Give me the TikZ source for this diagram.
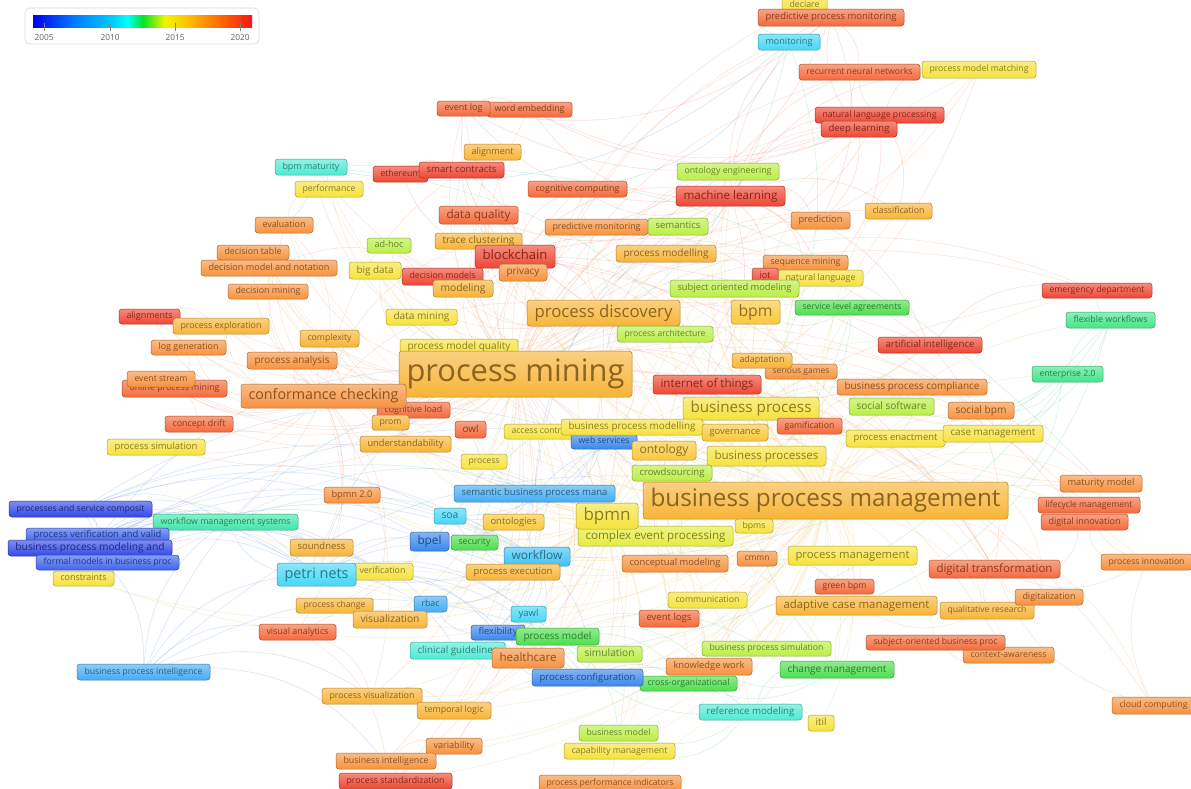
\documentclass[tikz,border=0pt]{standalone}
\usepackage{fontspec}
\setmainfont{Open Sans}

% keyword colours (publication year scale)
\definecolor{cRed}{RGB}{238,70,50}
\definecolor{cRedOr}{RGB}{244,106,58}
\definecolor{cOrange}{RGB}{247,146,62}
\definecolor{cAmber}{RGB}{248,180,55}
\definecolor{cAmberY}{RGB}{250,200,58}
\definecolor{cYellow}{RGB}{246,226,60}
\definecolor{cYellowG}{RGB}{228,236,62}
\definecolor{cYelGrn}{RGB}{186,238,70}
\definecolor{cGreen}{RGB}{78,222,78}
\definecolor{cTealGrn}{RGB}{70,228,140}
\definecolor{cTeal}{RGB}{65,230,170}
\definecolor{cAqua}{RGB}{80,234,212}
\definecolor{cCyan}{RGB}{70,215,245}
\definecolor{cCyanB}{RGB}{62,195,245}
\definecolor{cLBlue}{RGB}{70,172,242}
\definecolor{cBlue}{RGB}{58,135,236}
\definecolor{cMBlue}{RGB}{62,100,238}
\definecolor{cDBlue}{RGB}{52,72,230}
% link colours
\definecolor{eOr}{RGB}{242,168,128}
\definecolor{eYe}{RGB}{238,208,115}
\definecolor{eRe}{RGB}{240,140,120}
\definecolor{eBl}{RGB}{120,168,232}
\definecolor{eGr}{RGB}{110,212,168}

\pgfdeclarehorizontalshading{yearbar}{100bp}{rgb(0bp)=(0,0,0.92); rgb(25bp)=(0,0,0.92); rgb(34.1bp)=(0,0.47,1); rgb(42.6bp)=(0,0.78,1); rgb(46.5bp)=(0,1,1); rgb(50.1bp)=(0,0.9,0.15); rgb(55.1bp)=(0.95,0.96,0); rgb(60.4bp)=(1,0.75,0); rgb(67.2bp)=(1,0.43,0); rgb(75bp)=(0.98,0.08,0.08); rgb(100bp)=(0.98,0.08,0.08)}

\pgfdeclarelayer{bg}
\pgfsetlayers{bg,main}

\tikzset{
  kwstyle/.style={rectangle, rounded corners=3pt, draw=#1!72!black, line width=0.5pt,
    top color=#1!62!white, bottom color=#1, text=#1!56!black, inner sep=0pt},
  lnk/.style={draw=#1, draw opacity=0.3, line width=0.55pt, bend left=24},
  yearlbl/.style={font=\fontsize{8.3}{9}\selectfont, text=black!62, inner sep=0pt}
}

% keyword label: name, x, y, width, height, colour, text (font scaled to box width)
\newcommand\kwbox[7]{%
  \pgfmathsetmacro\kwfs{10*(#4-15)/width("#7")}%
  \node[kwstyle=#6, minimum width=#4pt, minimum height=#5pt] (#1) at (#2,#3)
    {\fontsize{\kwfs}{\kwfs}\selectfont\vphantom{Ag}#7};%
}

\begin{document}
\begin{tikzpicture}[x=1pt, y=-1pt]
\useasboundingbox (0,0) rectangle (1191,788);

% ---------- keywords ----------
\kwbox{deciare}{804.5}{5}{45}{16}{cYellow}{deciare}
\kwbox{ppm}{831}{17.5}{146}{17}{cRedOr}{predictive process monitoring}
\kwbox{monitoring}{789}{42}{62}{16}{cCyan}{monitoring}
\kwbox{rnn}{859.5}{72}{121}{16}{cRedOr}{recurrent neural networks}
\kwbox{pmm}{979}{69.5}{114}{17}{cYellow}{process model matching}
\kwbox{nlp}{879.5}{115}{129}{16}{cRed}{natural language processing}
\kwbox{dl}{859}{129}{76}{16}{cRed}{deep learning}
\kwbox{wemb}{529.5}{109.5}{85}{15}{cRedOr}{word embedding}
\kwbox{evlog}{463.5}{108.5}{53}{15}{cRedOr}{event log}
\kwbox{alignment}{492.5}{152}{57}{16}{cAmber}{alignment}
\kwbox{bpmmat}{311}{167}{72}{16}{cAqua}{bpm maturity}
\kwbox{eth}{400.5}{174}{55}{16}{cRed}{ethereum}
\kwbox{smart}{461.5}{170}{85}{16}{cRed}{smart contracts}
\kwbox{perf}{329}{189}{68}{16}{cYellow}{performance}
\kwbox{cogc}{577.5}{189}{99}{16}{cRedOr}{cognitive computing}
\kwbox{onteng}{728}{171.5}{102}{17}{cYelGrn}{ontology engineering}
\kwbox{ml}{730.5}{196}{109}{20}{cRed}{machine learning}
\kwbox{dq}{478.5}{215}{79}{18}{cRedOr}{data quality}
\kwbox{eval}{284}{225}{58}{16}{cOrange}{evaluation}
\kwbox{predmon}{596.5}{227}{103}{16}{cOrange}{predictive monitoring}
\kwbox{sem}{678}{226.5}{60}{17}{cYelGrn}{semantics}
\kwbox{pred}{820.5}{220.5}{59}{17}{cOrange}{prediction}
\kwbox{class}{898.5}{211}{67}{16}{cAmber}{classification}
\kwbox{trace}{478.5}{241}{87}{16}{cAmber}{trace clustering}
\kwbox{adhoc}{389}{245.5}{44}{15}{cYelGrn}{ad-hoc}
\kwbox{dtable}{253}{252.5}{72}{15}{cOrange}{decision table}
\kwbox{bc}{515}{256.5}{80}{23}{cRed}{blockchain}
\kwbox{pmod}{666}{253.5}{100}{17}{cAmber}{process modelling}
\kwbox{dmn}{269}{268}{136}{16}{cOrange}{decision model and notation}
\kwbox{bigd}{375}{270.5}{52}{17}{cYellow}{big data}
\kwbox{dmod}{442.5}{276.5}{81}{17}{cRed}{decision models}
\kwbox{priv}{523}{272.5}{48}{17}{cOrange}{privacy}
\kwbox{seqm}{805.5}{262.5}{85}{15}{cOrange}{sequence mining}
\kwbox{natl}{820.5}{278}{85}{16}{cYellow}{natural language}
\kwbox{iot}{765}{276.5}{26}{17}{cRed}{iot}
\kwbox{modeling}{463}{288.5}{60}{17}{cAmber}{modeling}
\kwbox{som}{734.5}{288.5}{129}{17}{cYelGrn}{subject oriented modeling}
\kwbox{dmin}{268}{291.5}{80}{15}{cOrange}{decision mining}
\kwbox{emerg}{1097}{290.5}{110}{15}{cRed}{emergency department}
\kwbox{pdisc}{603.5}{313}{153}{26}{cAmber}{process discovery}
\kwbox{bpm}{755.5}{312}{49}{24}{cAmberY}{bpm}
\kwbox{sla}{852}{307.5}{114}{15}{cGreen}{service level agreements}
\kwbox{alignments}{149.5}{316.5}{61}{15}{cRed}{alignments}
\kwbox{pexpl}{221}{326}{96}{16}{cAmber}{process exploration}
\kwbox{dmining}{421.5}{317}{71}{16}{cYellow}{data mining}
\kwbox{flexw}{1110.5}{320}{89}{16}{cTealGrn}{flexible workflows}
\kwbox{complexity}{329.5}{338.5}{59}{17}{cAmber}{complexity}
\kwbox{parch}{665}{334}{96}{16}{cYelGrn}{process architecture}
\kwbox{loggen}{188.5}{347.5}{75}{15}{cOrange}{log generation}
\kwbox{pmq}{459}{347}{118}{16}{cYellow}{process model quality}
\kwbox{ai}{930}{345}{104}{16}{cRed}{artificial intelligence}
\kwbox{panal}{292}{360.5}{90}{17}{cOrange}{process analysis}
\kwbox{pm}{515.5}{374}{233}{46}{cAmber}{process mining}
\kwbox{sgames}{801}{371.5}{72}{15}{cOrange}{serious games}
\kwbox{adapt}{762}{360.5}{60}{15}{cAmber}{adaptation}
\kwbox{iothings}{707}{384.5}{108}{19}{cRed}{internet of things}
\kwbox{bpc}{912}{387}{150}{16}{cOrange}{business process compliance}
\kwbox{ent}{1067.5}{374}{71}{16}{cTealGrn}{enterprise 2.0}
\kwbox{opm}{174.5}{388.5}{105}{17}{cRedOr}{online process mining}
\kwbox{evstream}{161}{379}{68}{16}{cOrange}{event stream}
\kwbox{cogl}{413.5}{410}{73}{16}{cRedOr}{cognitive load}
\kwbox{prom}{390.5}{422.5}{37}{15}{cAmber}{prom}
\kwbox{cc}{323.5}{396}{165}{24}{cOrange}{conformance checking}
\kwbox{bp}{751}{408.5}{136}{23}{cYellow}{business process}
\kwbox{socsw}{891.5}{406.5}{85}{17}{cYelGrn}{social software}
\kwbox{sbpm}{981}{410.5}{66}{17}{cOrange}{social bpm}
\kwbox{cdrift}{199}{424}{68}{16}{cRedOr}{concept drift}
\kwbox{owl}{470.5}{429.5}{31}{17}{cRedOr}{owl}
\kwbox{access}{540}{431.5}{72}{15}{cYellow}{access control}
\kwbox{wserv}{604}{441.5}{66}{15}{cBlue}{web services}
\kwbox{bpmodelling}{632}{427}{142}{16}{cYellow}{business process modelling}
\kwbox{gov}{735}{432.5}{66}{17}{cAmberY}{governance}
\kwbox{gamif}{809.5}{426}{65}{16}{cRedOr}{gamification}
\kwbox{penact}{895.5}{438.5}{99}{17}{cYellow}{process enactment}
\kwbox{casem}{993}{433.5}{100}{17}{cYellow}{case management}
\kwbox{underst}{405.5}{444}{91}{16}{cAmber}{understandability}
\kwbox{psim}{156}{447}{98}{16}{cYellow}{process simulation}
\kwbox{ontology}{664}{450.5}{64}{19}{cAmberY}{ontology}
\kwbox{bps}{766.5}{456}{119}{20}{cYellow}{business processes}
\kwbox{process}{484}{461.5}{46}{15}{cYellow}{process}
\kwbox{crowd}{672}{473}{80}{16}{cYelGrn}{crowdsourcing}
\kwbox{matm}{1101}{483.5}{82}{17}{cOrange}{maturity model}
\kwbox{bpmn2}{352}{495}{56}{16}{cOrange}{bpmn 2.0}
\kwbox{sbpmm}{534.5}{493.5}{161}{17}{cLBlue}{semantic business process mana}
\kwbox{bpmgt}{825.5}{500.5}{365}{37}{cAmber}{business process management}
\kwbox{lcm}{1089}{505}{102}{16}{cRedOr}{lifecycle management}
\kwbox{psc}{80.5}{509}{143}{16}{cDBlue}{processes and service composit}
\kwbox{wfms}{225.5}{522}{145}{16}{cTeal}{workflow management systems}
\kwbox{soa}{450}{516}{32}{16}{cCyan}{soa}
\kwbox{ontologies}{513.5}{522}{61}{16}{cAmberY}{ontologies}
\kwbox{bpms}{754}{526}{38}{14}{cYellow}{bpms}
\kwbox{cep}{655.5}{536}{155}{20}{cYellowG}{complex event processing}
\kwbox{bpmn}{607}{516}{62}{26}{cYellow}{bpmn}
\kwbox{dinnov}{1084.5}{522}{87}{16}{cRedOr}{digital innovation}
\kwbox{pvv}{97.5}{535}{143}{14}{cMBlue}{process verification and valid}
\kwbox{bpma}{90}{548}{164}{16}{cDBlue}{business process modeling and}
\kwbox{fmbp}{107.5}{562.5}{143}{15}{cMBlue}{formal models in business proc}
\kwbox{soundness}{321.5}{547.5}{63}{17}{cAmber}{soundness}
\kwbox{bpel}{429.5}{541.5}{39}{19}{cBlue}{bpel}
\kwbox{security}{474.5}{542.5}{47}{15}{cGreen}{security}
\kwbox{workflow}{537}{556.5}{66}{19}{cCyanB}{workflow}
\kwbox{pmgmt}{852.5}{555.5}{129}{19}{cYellow}{process management}
\kwbox{cmmn}{757}{558.5}{40}{15}{cOrange}{cmmn}
\kwbox{concm}{675}{563.5}{106}{17}{cOrange}{conceptual modeling}
\kwbox{dtrans}{994.5}{569}{131}{18}{cRedOr}{digital transformation}
\kwbox{pinnov}{1146.5}{562}{91}{16}{cOrange}{process innovation}
\kwbox{constraints}{83.5}{578.5}{61}{15}{cYellow}{constraints}
\kwbox{verif}{382.5}{571.5}{61}{17}{cYellow}{verification}
\kwbox{petri}{316.5}{574.5}{79}{23}{cCyan}{petri nets}
\kwbox{pexec}{513}{572}{94}{16}{cAmber}{process execution}
\kwbox{greenbpm}{844.5}{586.5}{59}{15}{cRedOr}{green bpm}
\kwbox{qualr}{987}{610.5}{94}{17}{cAmber}{qualitative research}
\kwbox{digitalization}{1049}{597}{68}{16}{cOrange}{digitalization}
\kwbox{acm}{856.5}{605.5}{161}{19}{cAmber}{adaptive case management}
\kwbox{comm}{707.5}{600}{79}{16}{cYellow}{communication}
\kwbox{pchange}{334.5}{605.5}{77}{15}{cAmber}{process change}
\kwbox{rbac}{430.5}{604}{33}{16}{cLBlue}{rbac}
\kwbox{visu}{390}{619.5}{74}{17}{cAmber}{visualization}
\kwbox{yawl}{528.5}{614}{35}{16}{cCyan}{yawl}
\kwbox{evlogs}{669}{618.5}{60}{17}{cRedOr}{event logs}
\kwbox{va}{297.5}{632}{77}{16}{cRedOr}{visual analytics}
\kwbox{flexibility}{498}{632.5}{54}{15}{cBlue}{flexibility}
\kwbox{pmodel}{557.5}{636.5}{83}{17}{cGreen}{process model}
\kwbox{ctxa}{1008.5}{655}{91}{16}{cOrange}{context-awareness}
\kwbox{sobp}{935.5}{642.5}{139}{15}{cRedOr}{subject-oriented business proc}
\kwbox{bpsim}{766.5}{648.5}{129}{15}{cYelGrn}{business process simulation}
\kwbox{clin}{457.5}{650.5}{95}{17}{cAqua}{clinical guidelines}
\kwbox{hc}{528}{658}{72}{20}{cOrange}{healthcare}
\kwbox{simul}{609.5}{654}{65}{16}{cYelGrn}{simulation}
\kwbox{kw}{709}{666.5}{86}{17}{cOrange}{knowledge work}
\kwbox{chm}{837}{669.5}{114}{17}{cGreen}{change management}
\kwbox{bpi}{143.5}{672}{133}{16}{cLBlue}{business process intelligence}
\kwbox{xorg}{688.5}{683.5}{97}{15}{cGreen}{cross-organizational}
\kwbox{pconf}{587.5}{677.5}{111}{17}{cBlue}{process configuration}
\kwbox{cloud}{1153.5}{705.5}{83}{17}{cOrange}{cloud computing}
\kwbox{pvis}{372}{696}{100}{16}{cAmber}{process visualization}
\kwbox{tlogic}{454}{710.5}{74}{17}{cAmber}{temporal logic}
\kwbox{refm}{750.5}{712}{103}{16}{cAqua}{reference modeling}
\kwbox{itil}{821}{723}{26}{16}{cYellow}{itil}
\kwbox{bmodel}{618.5}{733}{79}{16}{cYelGrn}{business model}
\kwbox{variab}{454}{746}{56}{16}{cOrange}{variability}
\kwbox{capm}{619.5}{751}{111}{16}{cYellow}{capability management}
\kwbox{bi}{386}{761}{100}{16}{cOrange}{business intelligence}
\kwbox{pstd}{395.5}{781}{113}{16}{cRed}{process standardization}
\kwbox{ppi}{610}{783}{142}{16}{cOrange}{process performance indicators}

% ---------- year legend ----------
\draw[rounded corners=5pt, draw=black!14, fill=white, line width=0.7pt] (25,8) rectangle (259,44);
\shade[shading=yearbar] (33,15) rectangle (252,27);
\foreach \yr/\xx in {2005/44, 2010/110, 2015/175, 2020/240}{
  \draw[black!50, line width=0.5pt] (\xx,23) -- (\xx,31);
  \node[yearlbl] (lg\yr) at (\xx,37.5) {\yr};
}

% ---------- co-occurrence links ----------
\begin{pgfonlayer}{bg}
\fill[white] (0,0) rectangle (1191,788);

\foreach \t in {pdisc,cc,bp,bpm,bpmn,evlog,wemb,dq,bc,ml,trace,dmin,panal,alignments,opm,evstream,cdrift,loggen,pexpl,pmq,complexity,dmining,predmon,ppm,evlogs,hc,pmodel,bpmodelling,iothings,ai,dl,rnn,priv,dmod,dmn,dtable,eval,alignment,cogc,smart,modeling,bigd,class,pred,seqm,psim,va,pvis,bi,pstd,variab,ppi,kw,ctxa,digitalization,dtrans,emerg,cloud,cogl,prom,owl,underst,sem,pmod,nlp,adapt,gamif,pexec,visu,pchange,simul,bpmgt,sbpm,matm,lcm,process,tlogic,monitoring,bpmmat,perf,adhoc,deciare}
  \draw[lnk=eOr] (pm) to (\t);

\foreach \t in {bp,bpmn,bpm,ontology,bps,sbpmm,casem,acm,pmgmt,dtrans,lcm,matm,dinnov,chm,sobp,sbpm,socsw,bpc,gov,ent,flexw,emerg,pinnov,cloud,digitalization,qualr,ctxa,greenbpm,refm,itil,bmodel,capm,ppi,kw,comm,sla,ai,iothings,gamif,penact,cep,crowd,workflow,soa,bpel,petri,wfms,concm,cmmn,bpms,simul,pconf,xorg,bpsim,onteng,som,parch,adapt,sgames,pmm,class,perf,bpmmat,eval,constraints,pvis,bi,variab,pstd,tlogic,visu,underst,bpmn2,dmn,bigd,priv,bc,smart,cogc,pred,natl,seqm,pdisc,ml,dq}
  \draw[lnk=eYe] (bpmgt) to (\t);

\foreach \t in {bpmn2,soundness,verif,petri,workflow,bpel,cep,concm,cmmn,dmn,dtable,underst,complexity,pvis,bpmodelling,bpsim,simul,pmodel,ontologies,ontology,sbpmm,som,soa,security,rbac,pexec,access,process,owl,constraints,tlogic,visu,pchange,yawl,comm,kw,chm,acm,casem,bps,bp,pdisc,bpm,gov,crowd,evlogs,hc,pconf,xorg,refm,bmodel,capm,pmm,pmod}
  \draw[lnk=eYe] (bpmn) to (\t);

\foreach \t in {bpm,bps,bpmodelling,ontology,gov,socsw,penact,casem,bpc,sbpm,gamif,adapt,sgames,iothings,crowd,comm,kw,chm,acm,pmgmt,dtrans,ai,ml,nlp,natl,iot,som,parch,pmod,sem,onteng,pdisc,cep}
  \draw[lnk=eYe] (bp) to (\t);

\foreach \t in {smart,eth,iot,iothings,priv,dq,dmod,bigd,ai,ml,cogc,dtrans,dinnov,gamif,trace,modeling,pdisc,evlog,cogl,adhoc}
  \draw[lnk=eRe] (bc) to (\t);

\foreach \t in {dl,nlp,rnn,ppm,pred,class,seqm,natl,wemb,evlog,cogc,ai,predmon,pmm,onteng,sem,pmod,iot,iothings,dq,monitoring}
  \draw[lnk=eRe] (ml) to (\t);

\foreach \a/\b in {nlp/natl,nlp/pmm,nlp/dl,nlp/pmod,nlp/wemb,nlp/rnn,nlp/class,dl/rnn,dl/ppm,dl/pred,dl/wemb,dl/evlog,ppm/rnn,ppm/predmon,ppm/pred,ppm/evlog,ai/iothings,ai/dtrans,ai/emerg,iothings/iot,iothings/dtrans,eth/smart,smart/priv,evlog/wemb}
  \draw[lnk=eRe] (\a) to (\b);

\foreach \t in {alignments,alignment,opm,evstream,cdrift,loggen,pexpl,panal,complexity,dmin,dtable,dmn,eval,pdisc,trace,underst,prom,cogl,psim,va,pvis,soundness,petri,constraints,verif,bpmn2}
  \draw[lnk=eOr] (cc) to (\t);

\foreach \t in {trace,dq,evlog,alignment,predmon,panal,bigd,dmining,modeling,priv,dmod,pmq,pmod,parch,bpm,seqm,hc,evlogs,pexpl,loggen,cdrift,emerg,pstd}
  \draw[lnk=eOr] (pdisc) to (\t);

\foreach \a/\b in {hc/emerg,hc/clin,hc/evlogs,hc/pvis,hc/pmodel,dmn/dtable,dmn/dmin,dmn/dmod,eval/perf,eval/complexity,underst/complexity,underst/pmq,underst/cogl,va/pvis,va/bi,bi/variab,bi/pstd,pvis/tlogic,variab/pconf,ctxa/sobp,digitalization/dtrans,qualr/acm,qualr/dtrans,cloud/dtrans,cloud/pinnov,pinnov/dtrans,pinnov/dinnov,pinnov/lcm,matm/lcm,matm/bpm,matm/bpmmat,dinnov/dtrans,lcm/bpm,kw/acm,kw/casem,sbpm/socsw,sbpm/casem,gamif/socsw,bpc/penact,bpc/gov,cmmn/casem,cmmn/acm,concm/ontology,concm/som,greenbpm/pmgmt,pmm/bpmodelling,pmm/pmod,alignments/pexpl,loggen/opm,evstream/cdrift}
  \draw[lnk=eOr] (\a) to (\b);

\foreach \a/\b in {psc/petri,psc/wfms,psc/workflow,psc/bpel,psc/pvv,psc/bpma,psc/fmbp,psc/soa,psc/wserv,psc/bpmn,pvv/petri,pvv/wfms,pvv/bpma,pvv/fmbp,pvv/verif,pvv/soundness,pvv/workflow,pvv/constraints,bpma/petri,bpma/fmbp,bpma/wfms,bpma/bpmn,bpma/pm,bpma/bpmgt,bpma/verif,bpma/soundness,bpma/workflow,bpma/bpi,fmbp/petri,fmbp/wfms,fmbp/verif,fmbp/soundness,fmbp/constraints,fmbp/bpel,fmbp/workflow,bpi/pm,bpi/pvis,bpi/bi,bpi/bpmgt,bpi/va,bpi/pmodel,bpi/petri,bpi/wfms,petri/workflow,petri/yawl,petri/soundness,petri/verif,petri/wfms,petri/bpel,petri/pexec,petri/flexibility,petri/rbac,petri/clin,petri/pconf,petri/pm,petri/pmodel,petri/hc,workflow/yawl,workflow/bpel,workflow/flexibility,workflow/wfms,workflow/pconf,workflow/clin,workflow/hc,workflow/sbpmm,workflow/soa,workflow/wserv,workflow/pexec,workflow/security,workflow/rbac,wserv/bpel,wserv/soa,wserv/sbpmm,wserv/sem,wserv/ontology,wserv/bpmodelling,wserv/cep,sbpmm/ontologies,sbpmm/ontology,sbpmm/soa,sbpmm/bpel,sbpmm/sem,sbpmm/onteng,sbpmm/owl,sbpmm/process,pconf/yawl,pconf/flexibility,pconf/refm,pconf/xorg,pconf/pmodel,pconf/simul,flexibility/yawl,flexibility/clin,flexibility/hc,flexibility/pmodel,flexibility/rbac,monitoring/bpmmat,monitoring/cogc}
  \draw[lnk=eBl] (\a) to (\b);

\foreach \a/\b in {ent/socsw,ent/sbpm,ent/casem,ent/bpmgt,ent/flexw,ent/bp,flexw/casem,flexw/hc,flexw/emerg,flexw/acm,flexw/workflow,refm/bmodel,refm/chm,refm/capm,refm/pmodel,refm/itil,chm/kw,chm/xorg,chm/acm,chm/bp,monitoring/pm,monitoring/ppm,monitoring/bp,bpmmat/matm,bpmmat/eval,bpmmat/perf,bpmmat/bp,clin/hc,clin/pmodel,clin/simul,security/rbac,security/bpel,security/access,sla/bpm,sla/cep,sla/bps,pmodel/simul,pmodel/xorg,pmodel/bpsim,pmodel/kw,pmodel/bmodel,wfms/workflow,wfms/bpmn}
  \draw[lnk=eGr] (\a) to (\b);
\end{pgfonlayer}
\end{tikzpicture}
\end{document}
